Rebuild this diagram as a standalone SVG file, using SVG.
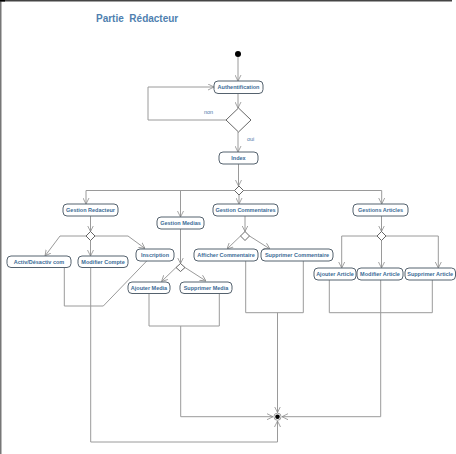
<svg xmlns="http://www.w3.org/2000/svg" width="456" height="454" viewBox="0 0 456 454">
<style>
.n rect{fill:#fff;stroke:#55626e;stroke-width:1}
.n text{font-family:"Liberation Sans",Arial,sans-serif;font-weight:bold;font-size:5.5px;fill:#3b6b96;text-anchor:middle}
.c path{fill:none;stroke:#9a9a9a;stroke-width:1}
.d{fill:#fff;stroke:#555;stroke-width:0.9}
.lbl{font-family:"Liberation Sans",Arial,sans-serif;font-size:5.5px;fill:#4a78a8}
</style>
<defs>
<marker id="a" viewBox="0 0 10 10" refX="10" refY="5" markerWidth="6" markerHeight="7" orient="auto" markerUnits="userSpaceOnUse">
<path d="M0,0 L10,5 L0,10" fill="none" stroke="#8a8a8a" stroke-width="1.3"/>
</marker>
</defs>
<rect x="0" y="0" width="456" height="454" fill="#fff"/>
<path d="M0,0.75 H452" stroke="#444" stroke-width="1.5"/>
<path d="M0.75,0 V454" stroke="#777" stroke-width="1.5"/>
<rect x="0" y="0" width="5" height="1.5" fill="#000"/>
<text x="96" y="21.5" font-family="Liberation Sans,Arial,sans-serif" font-weight="bold" font-size="10" fill="#4f7fb0" xml:space="preserve">Partie  Rédacteur</text>

<g class="c" id="connectors">
<path d="M238,57 V81" marker-end="url(#a)"/>
<path d="M238,94 V108" marker-end="url(#a)"/>
<path d="M226,120 H148 V87 H214" marker-end="url(#a)"/>
<path d="M238,132 V152" marker-end="url(#a)"/>
<path d="M238.5,164 V186" marker-end="url(#a)"/>
<path d="M86,190.5 H234.5 M243.5,190.5 H381.7"/>
<path d="M86,190.5 V204" marker-end="url(#a)"/>
<path d="M180.5,190.5 V217" marker-end="url(#a)"/>
<path d="M239,195 V204" marker-end="url(#a)"/>
<path d="M381.7,190.5 V204" marker-end="url(#a)"/>
<path d="M90.5,216 V231.5" marker-end="url(#a)"/>
<path d="M86,236 H60 L45,256" marker-end="url(#a)"/>
<path d="M90.5,240.5 V256" marker-end="url(#a)"/>
<path d="M95,236 H128 L145,248.5" marker-end="url(#a)"/>
<path d="M180.5,229 V263.5" marker-end="url(#a)"/>
<path d="M176,267.5 L161.5,281.5" marker-end="url(#a)"/>
<path d="M185,267.5 L206,281" marker-end="url(#a)"/>
<path d="M245,216 V231.5" marker-end="url(#a)"/>
<path d="M240.5,236 L227,249" marker-end="url(#a)"/>
<path d="M249.5,236 L270,249" marker-end="url(#a)"/>
<path d="M381.5,216 V231.5" marker-end="url(#a)"/>
<path d="M377,236 H341.7 V268" marker-end="url(#a)"/>
<path d="M381.5,240.5 V268" marker-end="url(#a)"/>
<path d="M386,236 H438.3 V268" marker-end="url(#a)"/>
<path d="M64.3,267.5 V306 H103.3 L146.7,261"/>
<path d="M90.7,267.5 V442 H277.5 V421" marker-end="url(#a)"/>
<path d="M149,293.5 V326 H219.3 V293.5"/>
<path d="M180.7,326 V416.7 H273" marker-end="url(#a)"/>
<path d="M245.7,261 V312.7 H303.3 V261"/>
<path d="M277.5,312.7 V412.5" marker-end="url(#a)"/>
<path d="M329.3,280 V312.7 H432.3 V280"/>
<path d="M380.7,280 V416.7 H282" marker-end="url(#a)"/>
</g>

<g id="start"><circle cx="238" cy="54" r="3" fill="#000"/></g>
<g id="end"><circle cx="277.5" cy="416.7" r="3.6" fill="#fff" stroke="#888" stroke-width="0.8"/><circle cx="277.5" cy="416.7" r="2.3" fill="#000"/></g>

<g id="dec-auth"><polygon class="d" points="238.5,108 251,120 238.5,132 226,120"/></g>
<g id="fork-main"><polygon class="d" points="239,186 243.5,190.5 239,195 234.5,190.5"/></g>
<g id="dec-redacteur"><polygon class="d" points="90.5,231.5 95,236 90.5,240.5 86,236"/></g>
<g id="dec-medias"><polygon class="d" points="180.5,263.5 185,267.5 180.5,271.5 176,267.5"/></g>
<g id="dec-commentaires"><polygon class="d" points="245,231.5 249.5,236 245,240.5 240.5,236"/></g>
<g id="dec-articles"><polygon class="d" points="381.5,231.5 386,236 381.5,240.5 377,236"/></g>

<text class="lbl" x="204" y="113.5">non</text>
<text class="lbl" x="247" y="140.5">oui</text>

<g class="n" id="authentification"><rect x="214" y="81" width="49" height="12.5" rx="4"/><text x="238.5" y="89.3">Authentification</text></g>
<g class="n" id="index"><rect x="219" y="152" width="39" height="12" rx="4"/><text x="238.5" y="160">Index</text></g>
<g class="n" id="gestion-redacteur"><rect x="63" y="204" width="55" height="12" rx="4"/><text x="90.5" y="212">Gestion Redacteur</text></g>
<g class="n" id="gestion-medias"><rect x="157" y="217" width="47" height="12" rx="4"/><text x="180.5" y="225">Gestion Medias</text></g>
<g class="n" id="gestion-commentaires"><rect x="213" y="204" width="65" height="12" rx="4"/><text x="245.5" y="212">Gestion Commentaires</text></g>
<g class="n" id="gestions-articles"><rect x="353" y="204" width="55" height="12" rx="4"/><text x="380.5" y="212">Gestions Articles</text></g>
<g class="n" id="activ-desactiv"><rect x="7" y="256" width="64" height="11.5" rx="4"/><text x="39" y="263.8">Activ/Désactiv com</text></g>
<g class="n" id="modifier-compte"><rect x="78" y="256" width="50" height="11.5" rx="4"/><text x="103" y="263.8">Modifier Compte</text></g>
<g class="n" id="inscription"><rect x="136" y="249" width="38" height="12" rx="4"/><text x="155" y="257">Inscription</text></g>
<g class="n" id="ajouter-media"><rect x="128" y="282" width="42" height="11.5" rx="4"/><text x="149" y="289.8">Ajouter Media</text></g>
<g class="n" id="supprimer-media"><rect x="180" y="282" width="52" height="11.5" rx="4"/><text x="206" y="289.8">Supprimer Media</text></g>
<g class="n" id="afficher-commentaire"><rect x="194" y="249" width="64" height="12" rx="4"/><text x="226" y="257">Afficher Commentaire</text></g>
<g class="n" id="supprimer-commentaire"><rect x="261" y="249" width="72" height="12" rx="4"/><text x="297" y="257">Supprimer Commentaire</text></g>
<g class="n" id="ajouter-article"><rect x="314" y="268" width="42" height="12" rx="4"/><text x="335" y="276">Ajouter Article</text></g>
<g class="n" id="modifier-article"><rect x="357" y="268" width="46" height="12" rx="4"/><text x="380" y="276">Modifier Article</text></g>
<g class="n" id="supprimer-article"><rect x="405" y="268" width="50.5" height="12" rx="4"/><text x="430.2" y="276">Supprimer Article</text></g>
</svg>
